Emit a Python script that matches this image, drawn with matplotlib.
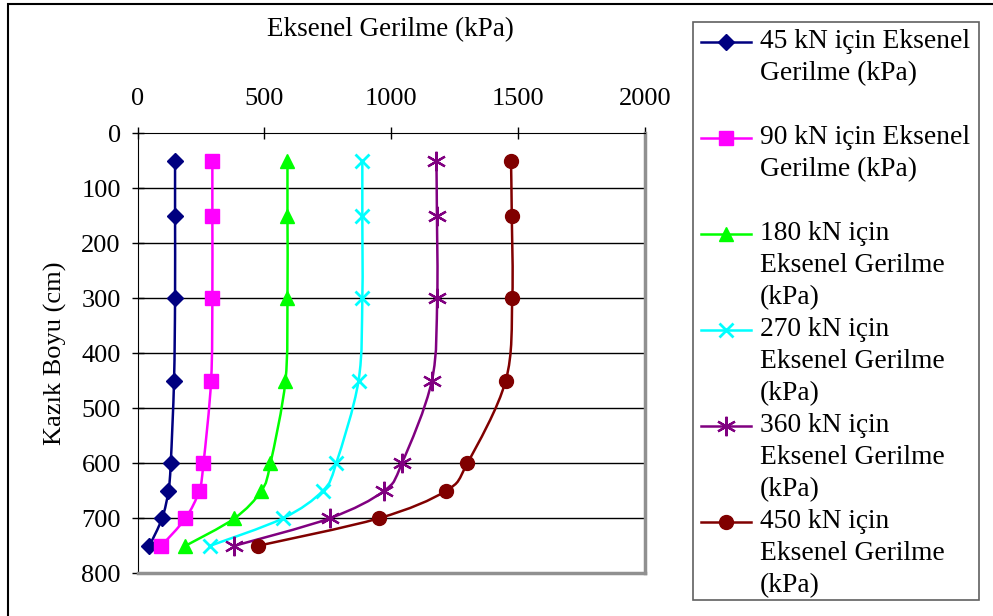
import numpy as np
import matplotlib
matplotlib.use("Agg")
import matplotlib.pyplot as plt
from matplotlib.path import Path
from matplotlib.patches import PathPatch, Rectangle
from matplotlib.lines import Line2D

plt.rcParams['font.family'] = ['Liberation Serif', 'DejaVu Serif']

# pile depth (cm) and axial stress (kPa) for each load step
depth = [50, 150, 300, 450, 600, 650, 700, 750]
stress_45 = [148, 148, 148, 144, 131, 122, 97, 47]
stress_90 = [295, 295, 295, 290, 260, 243, 189, 94]
stress_180 = [591, 591, 591, 583, 524, 488, 382, 189]
stress_270 = [886, 886, 886, 871, 783, 730, 573, 286]
stress_360 = [1178, 1180, 1181, 1160, 1042, 972, 757, 382]
stress_450 = [1472, 1475, 1477, 1451, 1300, 1216, 951, 475]

labels = [
    ["45 kN için Eksenel", "Gerilme (kPa)"],
    ["90 kN için Eksenel", "Gerilme (kPa)"],
    ["180 kN için", "Eksenel Gerilme", "(kPa)"],
    ["270 kN için", "Eksenel Gerilme", "(kPa)"],
    ["360 kN için", "Eksenel Gerilme", "(kPa)"],
    ["450 kN için", "Eksenel Gerilme", "(kPa)"],
]
x_ticks = [0, 500, 1000, 1500, 2000]
y_ticks = [0, 100, 200, 300, 400, 500, 600, 700, 800]

series = [stress_45, stress_90, stress_180, stress_270, stress_360, stress_450]
colors = ['#000080', '#FF00FF', '#00FF00', '#00FFFF', '#800080', '#800000']
markers = ['D', 's', '^', 'x', (6, 2, 0), 'o']
msizes = [8, 9.5, 10, 10.5, 14, 10]

W, H = 993, 616
fig = plt.figure(figsize=(W / 100, H / 100), dpi=100)


def fx(px):
    return px / W


def fy(py):
    return 1 - py / H


# outer chart border
fig.patches.append(Rectangle((fx(8), fy(700)), fx(1100), fy(4) - fy(700),
                             transform=fig.transFigure, fill=False,
                             edgecolor='black', lw=1.5))

ax = fig.add_axes([fx(137.5), fy(573.3), fx(645) - fx(137.5), fy(133.3) - fy(573.3)])
ax.set_xlim(0, 2000)
ax.set_ylim(800, 0)
ax.set_xticks(x_ticks)
ax.set_yticks(y_ticks)
ax.xaxis.tick_top()
ax.tick_params(axis='both', direction='inout', length=8, width=1, labelsize=19)
ax.tick_params(axis='x', pad=13)
ax.tick_params(axis='y', pad=8)
ax.tick_params(axis='x', which='both', bottom=False)
for y in y_ticks[1:-1]:
    ax.axhline(y, color='black', lw=1, zorder=1)
ax.spines['left'].set_color('black')
ax.spines['top'].set_color('black')
ax.spines['right'].set_color('#909090')
ax.spines['bottom'].set_color('#909090')
ax.spines['right'].set_linewidth(2.5)
ax.spines['bottom'].set_linewidth(2.5)


def smooth_path(xs, ys):
    # Catmull-Rom style bezier through the points, like a smoothed line
    pts = np.column_stack([xs, ys]).astype(float)
    n = len(pts)
    verts = [pts[0]]
    codes = [Path.MOVETO]
    for i in range(n - 1):
        p0 = pts[max(i - 1, 0)]
        p1 = pts[i]
        p2 = pts[i + 1]
        p3 = pts[min(i + 2, n - 1)]
        c1 = p1 + (p2 - p0) / 6
        c2 = p2 - (p3 - p1) / 6
        verts += [c1, c2, p2]
        codes += [Path.CURVE4] * 3
    return Path(verts, codes)


def edge_width(m):
    if m == 'x':
        return 2
    if m == (6, 2, 0):
        return 1.6
    return 1


for vals, c, m, ms in zip(series, colors, markers, msizes):
    ax.add_patch(PathPatch(smooth_path(vals, depth), fill=False, edgecolor=c,
                           lw=1.8, zorder=3))
    ax.plot(vals, depth, linestyle='none', marker=m, markersize=ms, color=c,
            markeredgecolor=c, markeredgewidth=edge_width(m), zorder=4)

fig.text(fx(390), fy(30), "Eksenel Gerilme (kPa)", ha='center', va='center', fontsize=19.5)
fig.text(fx(55), fy(353), "Kazık Boyu (cm)", ha='center', va='center',
         rotation=90, fontsize=19)

# legend box
fig.patches.append(Rectangle((fx(692.5), fy(600)), fx(978.5) - fx(692.5), fy(22) - fy(600),
                             transform=fig.transFigure, fill=False,
                             edgecolor='#606060', lw=1.2))
for i, (lab, c, m, ms) in enumerate(zip(labels, colors, markers, msizes)):
    y0 = 42 + 96 * i
    fig.lines.append(Line2D([fx(701), fx(751)], [fy(y0), fy(y0)], color=c, lw=1.8,
                            transform=fig.transFigure))
    fig.lines.append(Line2D([fx(726)], [fy(y0)], marker=m, markersize=ms, color=c,
                            markeredgewidth=edge_width(m), transform=fig.transFigure))
    for k, line in enumerate(lab):
        fig.text(fx(760), fy(y0 + 31.7 * k), line, ha='left', va='center', fontsize=19.8)

fig.savefig("out.png", dpi=100)
